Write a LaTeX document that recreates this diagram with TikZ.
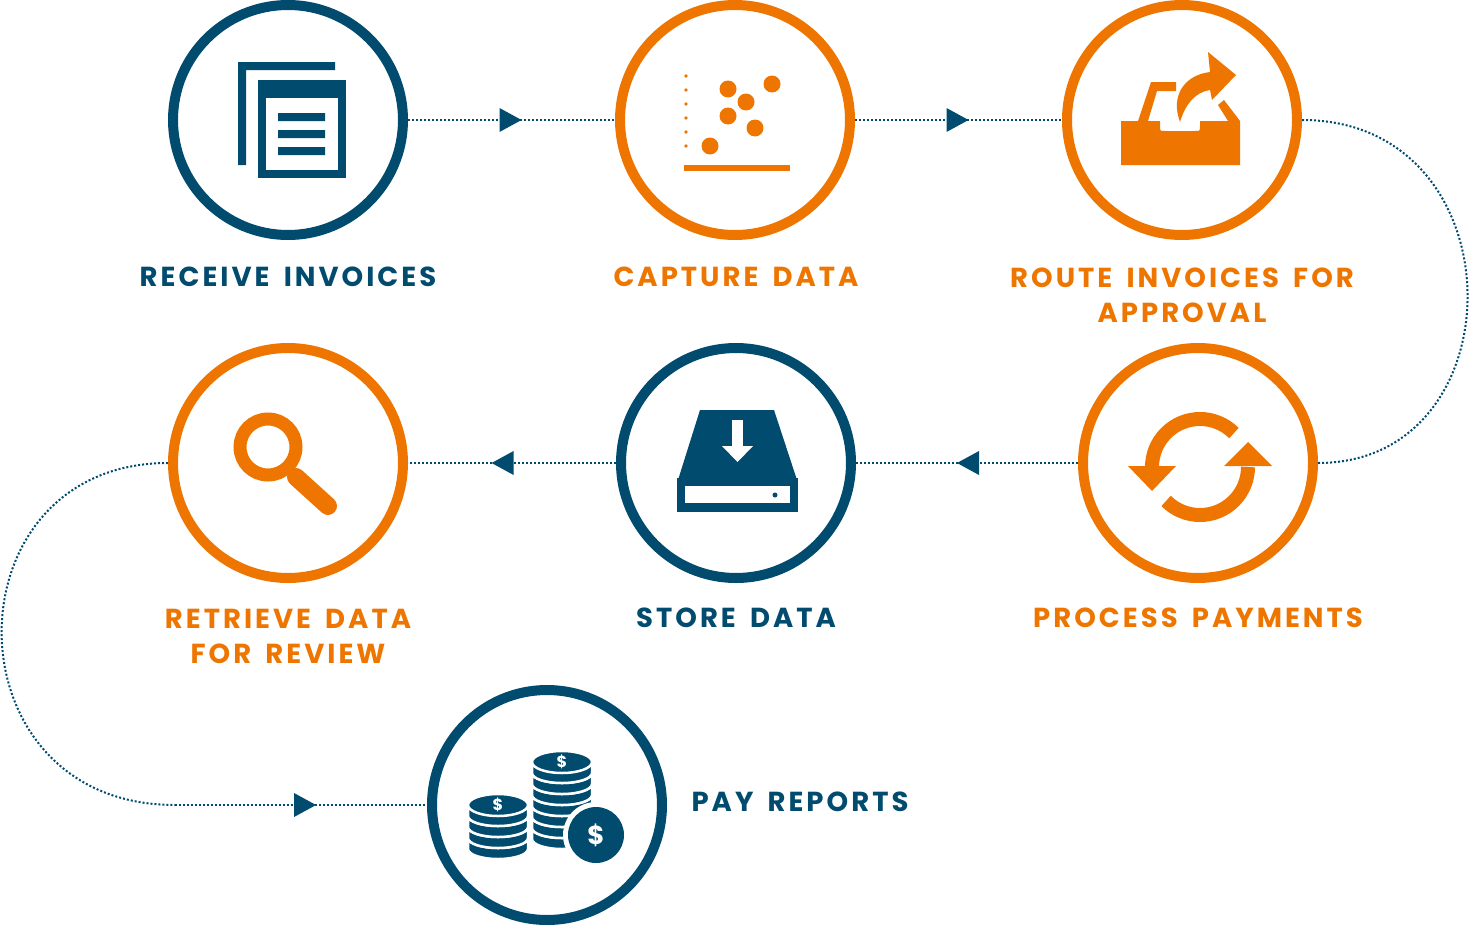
\documentclass[tikz,border=0pt]{standalone}
\usepackage{fontspec}
\setmainfont{Poppins}[LetterSpace=11,WordSpace=1.6]
\usetikzlibrary{decorations.markings}
\definecolor{cblue}{HTML}{004B6E}
\definecolor{corange}{HTML}{EE7600}
\tikzset{
  ring/.style={circle,draw=#1,line width=10pt,minimum size=230pt,inner sep=0pt},
  lbl/.style={text=#1,font=\fontsize{27.5}{35}\selectfont\bfseries,align=center},
  conn/.style={draw=cblue,line width=2pt,dotted},
  midarrow/.style={postaction={decorate},decoration={markings,mark=at position #1 with {\fill[cblue] (10pt,0)--(-12pt,12pt)--(-12pt,-12pt)--cycle;}}}
}
\begin{document}
\begin{tikzpicture}[x=1pt,y=-1pt]
\useasboundingbox (0,0) rectangle (1470,926);
\node[ring=cblue] (recv) at (288,120) {};
\node[ring=corange] (capt) at (735,120) {};
\node[ring=corange] (route) at (1182,120) {};
\node[ring=corange] (proc) at (1198,463) {};
\node[ring=cblue] (store) at (736,463) {};
\node[ring=corange] (retr) at (288,463) {};
\node[ring=cblue] (pay) at (547,805) {};

\node[lbl=cblue] (l1) at (288,277) {RECEIVE INVOICES};
\node[lbl=corange] (l2) at (736,277) {CAPTURE DATA};
\node[lbl=corange] (l3) at (1182,295) {ROUTE INVOICES FOR\\APPROVAL};
\node[lbl=corange] (l4) at (1198,618) {PROCESS PAYMENTS};
\node[lbl=cblue] (l5) at (736,618) {STORE DATA};
\node[lbl=corange] (l6) at (288,636) {RETRIEVE DATA\\FOR REVIEW};
\node[lbl=cblue,anchor=west] (l7) at (688,802) {PAY REPORTS};

% connectors
\draw[conn,midarrow=0.5] (recv.east) -- (capt.west);
\draw[conn,midarrow=0.5] (capt.east) -- (route.west);
\draw[conn] (route.east) .. controls (1520,120) and (1520,463) .. (proc.east);
\draw[conn,midarrow=0.5] (proc.west) -- (store.east);
\draw[conn,midarrow=0.55] (store.west) -- (retr.east);
\coordinate (c1) at (175,805);
\draw[conn] (retr.west) .. controls (-55,463) and (-55,805) .. (c1);
\draw[conn,midarrow=0.52] (c1) -- (pay.west);

% receive icon
\fill[cblue] (238,62) rectangle (335,70) (238,62) rectangle (246,165);
\fill[cblue] (258,80) rectangle (346,178);
\fill[white] (266,98) rectangle (338,170);
\fill[cblue] (278,113) rectangle (325,121) (278,130) rectangle (325,138) (278,147) rectangle (325,155);

% capture icon
\foreach \y in {76,90,104,118,132,146} \fill[corange] (686,\y) circle (1.8);
\fill[corange] (684,165) rectangle (790,171);
\foreach \p in {(728,89),(772,84),(746,102),(728,116),(755,128),(710,146)} \fill[corange] \p circle (8.5);

% route icon
\fill[corange] (1121,121) -- (1160,121) -- (1160,126) .. controls (1160,131) .. (1165,131) -- (1195,131) .. controls (1200,131) .. (1200,126) -- (1200,121) -- (1240,121) -- (1240,165) -- (1121,165) -- cycle;
\fill[corange] (1138,121) -- (1151,82) -- (1176,82) -- (1176,91) -- (1157,91) -- (1148,121) -- cycle;
\fill[corange] (1218,105) -- (1224,100) -- (1240,121) -- (1228,121) -- cycle;
\fill[corange] (1180,122) .. controls (1170,95) and (1185,75) .. (1210,72) -- (1208,52) -- (1236,75) -- (1212,100) -- (1210,90) .. controls (1195,92) and (1185,105) .. (1180,122) -- cycle;

% process icon
\draw[corange,line width=14pt] (1200,467) ++(-45:48) arc[start angle=-45,end angle=-180,radius=48];
\fill[corange] (1128,466) -- (1176,466) -- (1152,491) -- cycle;
\draw[corange,line width=14pt] (1200,467) ++(135:48) arc[start angle=135,end angle=0,radius=48];
\fill[corange] (1224,466) -- (1272,466) -- (1248,442) -- cycle;

% store icon
\fill[cblue] (700,410) -- (774,410) -- (797,480) -- (678,480) -- cycle;
\fill[cblue] (677,478) rectangle (798,512);
\fill[white] (685,486) rectangle (790,503);
\fill[cblue] (775,495) circle (2.5);
\fill[white] (732,420) rectangle (743,446);
\fill[white] (722,446) -- (753,446) -- (737.5,462) -- cycle;

% retrieve icon
\draw[corange,line width=13pt] (268,447) circle (28);
\draw[corange,line width=18pt,line cap=round] (296,477) -- (328,506);

% pay icon
\foreach \cx/\top/\n in {498/805/4,562/762/7}{
  \foreach \i in {\n,...,1}{
    \filldraw[fill=cblue,draw=white,line width=2.5pt] (\cx-30,\top+\i*11-11) -- (\cx-30,\top+\i*11) arc[start angle=180,end angle=0,x radius=30,y radius=10] -- (\cx+30,\top+\i*11-11) arc[start angle=0,end angle=180,x radius=30,y radius=10] -- cycle;
  }
  \filldraw[fill=cblue,draw=white,line width=2.5pt] (\cx,\top) ellipse (30 and 11);
  \node[text=white,font=\fontsize{16}{16}\selectfont\bfseries] at (\cx,\top) {\$};
}
\fill[white] (596,835) circle (33);
\fill[cblue] (596,835) circle (28);
\node[text=white,font=\fontsize{26}{26}\selectfont\bfseries] at (596,835) {\$};
\end{tikzpicture}
\end{document}
